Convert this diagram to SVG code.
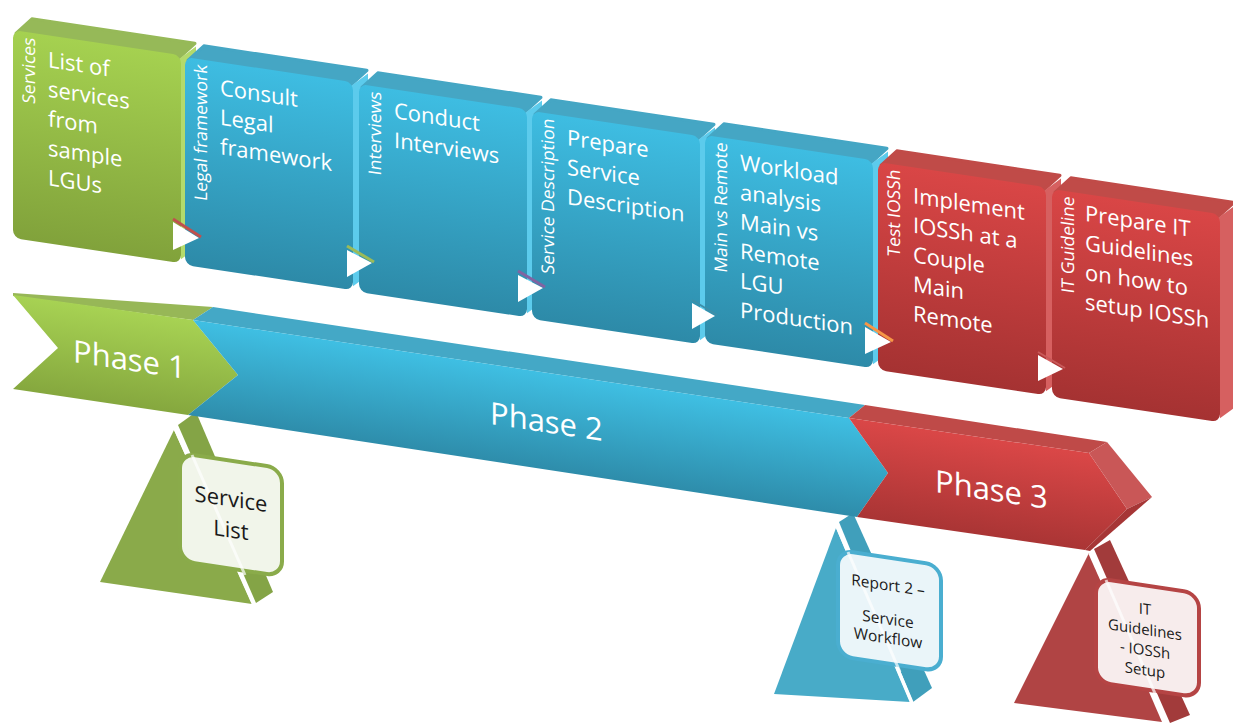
<svg xmlns="http://www.w3.org/2000/svg" width="1233" height="723" viewBox="0 0 1233 723">
<defs>
<linearGradient id="gG" x1="0" y1="0" x2="0" y2="1"><stop offset="0" stop-color="#a5d150"/><stop offset="1" stop-color="#81a23b"/></linearGradient>
<linearGradient id="gB" x1="0" y1="0" x2="0" y2="1"><stop offset="0" stop-color="#3ebde2"/><stop offset="1" stop-color="#2d8aa8"/></linearGradient>
<linearGradient id="gR" x1="0" y1="0" x2="0" y2="1"><stop offset="0" stop-color="#d94646"/><stop offset="1" stop-color="#a53232"/></linearGradient>
<linearGradient id="bG" gradientUnits="userSpaceOnUse" x1="0" y1="0" x2="0" y2="95" gradientTransform="translate(0,293) skewY(8.3)"><stop offset="0" stop-color="#a7d253"/><stop offset="1" stop-color="#85a73e"/></linearGradient>
<linearGradient id="bB" gradientUnits="userSpaceOnUse" x1="0" y1="0" x2="0" y2="96" gradientTransform="translate(0,291) skewY(8.53)"><stop offset="0" stop-color="#3fbfe3"/><stop offset="1" stop-color="#2e8dab"/></linearGradient>
<linearGradient id="bR" gradientUnits="userSpaceOnUse" x1="0" y1="0" x2="0" y2="100" gradientTransform="translate(0,288) skewY(8.7)"><stop offset="0" stop-color="#da4747"/><stop offset="1" stop-color="#a83434"/></linearGradient>
</defs>
<style>
.ct{font-family:'Open Sans','Liberation Sans',sans-serif;font-size:22px;fill:#fff}
.sl{font-family:'Open Sans','Liberation Sans',sans-serif;font-size:17.5px;fill:#fff}
.ph{font-family:'Open Sans','Liberation Sans',sans-serif;font-size:31px;fill:#fff}
.mt{font-family:'Open Sans','Liberation Sans',sans-serif;fill:#1a1a1a;text-anchor:middle}
.topG{fill:#96b958;stroke:#96b958;stroke-width:3;stroke-linejoin:round}
.sideG{fill:#b3da6c}
.topB{fill:#45a6c4;stroke:#45a6c4;stroke-width:3;stroke-linejoin:round}
.sideB{fill:#5ccbec}
.topR{fill:#c04b48;stroke:#c04b48;stroke-width:3;stroke-linejoin:round}
.sideR{fill:#d66060}
.wl{stroke:#fff;stroke-width:3.5;fill:none}
.tri{fill:#fff}
</style>

<!-- milestones -->
<g id="milestone-service-list">
<polygon points="174,430 100,582 252,604" fill="#8aaa4a"/>
<polygon points="178,425 196,412 273,592 256,603" fill="#84a446"/>
<line class="wl" x1="175" y1="428" x2="254" y2="605"/>
<rect transform="translate(180,453) skewY(8.53)" width="102" height="108" rx="15" fill="#f1f5ea" stroke="#8aab4a" stroke-width="4"/>
<line x1="192" y1="455" x2="245" y2="575" stroke="#fff" stroke-width="3" opacity="0.7"/>
<g transform="translate(180,453) skewY(8.53)"><text class="mt" font-size="22" x="51" y="46">Service</text><text class="mt" font-size="22" x="51" y="77">List</text></g>
</g>
<g id="milestone-report2">
<polygon points="836,528 774,694 910,702" fill="#48abc8"/>
<polygon points="839,522 853,513 932,688 913,702" fill="#409fbb"/>
<line class="wl" x1="837" y1="526" x2="912" y2="703"/>
<rect transform="translate(838,550) skewY(8.53)" width="103" height="106" rx="15" fill="#eaf5f9" stroke="#4aaed0" stroke-width="4"/>
<line x1="848" y1="552" x2="900" y2="672" stroke="#fff" stroke-width="3" opacity="0.7"/>
<g transform="translate(838,550) skewY(8.53)"><text class="mt" font-size="15.5" x="50" y="33">Report 2 –</text><text class="mt" font-size="15.5" x="50" y="67">Service</text><text class="mt" font-size="15.5" x="50" y="86">Workflow</text></g>
</g>
<g id="milestone-it-guidelines">
<polygon points="1089,553 1014,703 1162,722" fill="#b04444"/>
<polygon points="1094,549 1110,540 1190,715 1170,723" fill="#a23b3b"/>
<line class="wl" x1="1090" y1="553" x2="1166" y2="723"/>
<rect transform="translate(1096,578) skewY(8.53)" width="103" height="104" rx="15" fill="#f7ecec" stroke="#b54444" stroke-width="4"/>
<line x1="1106" y1="580" x2="1157" y2="698" stroke="#fff" stroke-width="3" opacity="0.7"/>
<g transform="translate(1096,578) skewY(8.53)"><text class="mt" font-size="15" x="49" y="29">IT</text><text class="mt" font-size="15" x="49" y="49.5">Guidelines</text><text class="mt" font-size="15" x="49" y="70">- IOSSh</text><text class="mt" font-size="15" x="49" y="90">Setup</text></g>
</g>

<!-- phase band -->
<g id="phase1">
<polygon points="13,293 213,307 193,320 13,296" fill="#97b757"/>
<polygon points="13,295 193,320 238,375 188,415 13,389 58,348" fill="url(#bG)"/>
<g transform="translate(73,362) skewY(8.53)"><text class="ph">Phase 1</text></g>
</g>
<g id="phase2">
<polygon points="213,307 865,405 849,418 193,320" fill="#44a8c6"/>
<polygon points="193,320 849,418 888,473 857,517 188,415 238,375" fill="url(#bB)"/>
<g transform="translate(490,424) skewY(8.53)"><text class="ph">Phase 2</text></g>
</g>
<g id="phase3">
<polygon points="865,405 1107,442 1089,453 849,418" fill="#bf4a48"/>
<polygon points="849,418 1089,453 1127,509 1085,550 857,517 888,473" fill="url(#bR)"/>
<polygon points="1089,453 1107,442 1152,497 1127,509" fill="#c95757"/>
<polygon points="1127,509 1152,497 1090,551 1085,550" fill="#a63636"/>
<g transform="translate(935,492) skewY(8.53)"><text class="ph">Phase 3</text></g>
</g>

<!-- activity cards -->
<g id="card1" transform="translate(13,30) skewY(8.53)">
<polygon class="topG" points="3,3 19,-14 182,-14 166,3"/>
<polygon class="sideG" points="166,4 183,-11 184,190 168,204"/>
<rect width="168" height="208" rx="8" fill="url(#gG)"/>
<text class="sl" transform="translate(22,5) rotate(-90)" text-anchor="end">Services</text>
<text class="ct" y="32"><tspan x="35">List of</tspan><tspan x="35" dy="29.5">services</tspan><tspan x="35" dy="29.5">from</tspan><tspan x="35" dy="29.5">sample</tspan><tspan x="35" dy="29.5">LGUs</tspan></text>
</g>
<g id="card2" transform="translate(185,57) skewY(8.53)">
<polygon class="topB" points="3,3 19,-14 182,-14 166,3"/>
<polygon class="sideB" points="166,4 183,-11 184,190 168,204"/>
<rect width="168" height="208" rx="8" fill="url(#gB)"/>
<text class="sl" transform="translate(22,5) rotate(-90)" text-anchor="end">Legal framework</text>
<text class="ct" y="33"><tspan x="35">Consult</tspan><tspan x="35" dy="29.5">Legal</tspan><tspan x="35" dy="29.5">framework</tspan></text>
</g>
<g id="card3" transform="translate(359,84) skewY(8.53)">
<polygon class="topB" points="3,3 19,-14 182,-14 166,3"/>
<polygon class="sideB" points="166,4 183,-11 184,190 168,204"/>
<rect width="168" height="208" rx="8" fill="url(#gB)"/>
<text class="sl" transform="translate(22,5) rotate(-90)" text-anchor="end">Interviews</text>
<text class="ct" y="29"><tspan x="35">Conduct</tspan><tspan x="35" dy="29.5">Interviews</tspan></text>
</g>
<g id="card4" transform="translate(532,111) skewY(8.53)">
<polygon class="topB" points="3,3 19,-14 182,-14 166,3"/>
<polygon class="sideB" points="166,4 183,-11 184,190 168,204"/>
<rect width="168" height="208" rx="8" fill="url(#gB)"/>
<text class="sl" transform="translate(22,5) rotate(-90)" text-anchor="end">Service Description</text>
<text class="ct" y="29"><tspan x="35">Prepare</tspan><tspan x="35" dy="29.5">Service</tspan><tspan x="35" dy="29.5">Description</tspan></text>
</g>
<g id="card5" transform="translate(705,135) skewY(8.53)">
<polygon class="topB" points="3,3 19,-14 182,-14 166,3"/>
<polygon class="sideB" points="166,4 183,-11 184,190 168,204"/>
<rect width="168" height="208" rx="8" fill="url(#gB)"/>
<text class="sl" transform="translate(22,5) rotate(-90)" text-anchor="end">Main vs Remote</text>
<text class="ct" y="30"><tspan x="35">Workload</tspan><tspan x="35" dy="29.5">analysis</tspan><tspan x="35" dy="29.5">Main vs</tspan><tspan x="35" dy="29.5">Remote</tspan><tspan x="35" dy="29.5">LGU</tspan><tspan x="35" dy="29.5">Production</tspan></text>
</g>
<g id="card6" transform="translate(878,162) skewY(8.53)">
<polygon class="topR" points="3,3 19,-14 182,-14 166,3"/>
<polygon class="sideR" points="166,4 183,-11 184,190 168,204"/>
<rect width="168" height="208" rx="8" fill="url(#gR)"/>
<text class="sl" transform="translate(22,5) rotate(-90)" text-anchor="end">Test IOSSh</text>
<text class="ct" y="36"><tspan x="35">Implement</tspan><tspan x="35" dy="29.5">IOSSh at a</tspan><tspan x="35" dy="29.5">Couple</tspan><tspan x="35" dy="29.5">Main</tspan><tspan x="35" dy="29.5">Remote</tspan></text>
</g>
<g id="card7" transform="translate(1052,189) skewY(8.53)">
<polygon class="topR" points="3,3 19,-14 182,-14 166,3"/>
<polygon class="sideR" points="166,4 183,-11 184,190 168,204"/>
<rect width="168" height="208" rx="8" fill="url(#gR)"/>
<text class="sl" transform="translate(22,5) rotate(-90)" text-anchor="end">IT Guideline</text>
<text class="ct" y="27"><tspan x="33">Prepare IT</tspan><tspan x="33" dy="29.5">Guidelines</tspan><tspan x="33" dy="29.5">on how to</tspan><tspan x="33" dy="29.5">setup IOSSh</tspan></text>
</g>

<!-- connectors: step triangles -->
<g id="connectors">
<polygon class="tri" points="173,222 199,238 173,250"/><line x1="173" y1="219" x2="201" y2="237" stroke="#c0504d" stroke-width="3"/>
<polygon class="tri" points="347,250 372,263 347,277"/><line x1="347" y1="246" x2="374" y2="262" stroke="#9bbb59" stroke-width="3"/>
<polygon class="tri" points="518,275 543,288 518,302"/><line x1="518" y1="271" x2="545" y2="287" stroke="#8064a2" stroke-width="3"/>
<polygon class="tri" points="692,303 715,316 692,329"/><line x1="692" y1="300" x2="717" y2="315" stroke="#3d8fa8" stroke-width="2"/>
<polygon class="tri" points="865,327 891,342 865,354"/><line x1="865" y1="323" x2="893" y2="341" stroke="#f79646" stroke-width="3"/>
<polygon class="tri" points="1038,355 1063,369 1038,381"/><line x1="1038" y1="352" x2="1065" y2="368" stroke="#c85a5a" stroke-width="2"/>
</g>
</svg>
